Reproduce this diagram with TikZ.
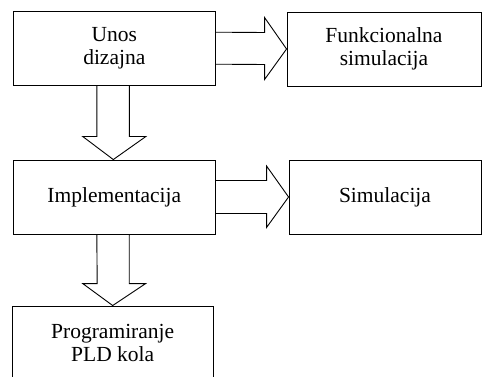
\documentclass[tikz,border=0pt]{standalone}
\usepackage{fontspec}
\setmainfont{Liberation Serif}
\usetikzlibrary{calc}
\begin{document}
\begin{tikzpicture}[x=1pt,y=-1pt,
  box/.style={draw,line width=0.9pt,inner sep=0pt,minimum height=74pt,
    align=center,font=\fontsize{21.5}{23.5}\selectfont},
  blockarrow/.style={draw,line width=0.9pt,line join=miter}]
\clip (0,0) rectangle (482,377);
% process boxes
\node[box,minimum width=201.5pt] (unos) at (114.3,48.2) {Unos\\dizajna};
\node[box,minimum width=194pt] (funk) at (384,49) {Funkcionalna\\simulacija};
\node[box,minimum width=201.5pt] (impl) at (114.3,197) {Implementacija};
\node[box,minimum width=192pt] (sim) at (385,197) {Simulacija};
\node[box,minimum width=201pt] (prog) at (112.7,343) {Programiranje\\PLD kola};
% wide arrows between the boxes
\draw[blockarrow] ($(unos.east)+(0,-16)$) -- ($(funk.west)+(-22,-16.5)$)
  -- ($(funk.west)+(-22,-31.5)$) -- (funk.west) -- ($(funk.west)+(-22,30.5)$)
  -- ($(funk.west)+(-22,15.5)$) -- ($(unos.east)+(0,16)$);
\draw[blockarrow] ($(impl.east)+(0,-16.5)$) -- ($(sim.west)+(-22,-16.5)$)
  -- ($(sim.west)+(-22,-31)$) -- (sim.west) -- ($(sim.west)+(-22,30.5)$)
  -- ($(sim.west)+(-22,16.5)$) -- ($(impl.east)+(0,16.5)$);
\draw[blockarrow] ($(unos.south)+(-17.5,0)$) -- ($(impl.north)+(-17.5,-23)$)
  -- ($(impl.north)+(-31.5,-23)$) -- ($(impl.north)+(-1,0)$) -- ($(impl.north)+(31.5,-23)$)
  -- ($(impl.north)+(15,-23)$) -- ($(unos.south)+(15,0)$);
\draw[blockarrow] ($(impl.south)+(-17.5,0)$) -- ($(prog.north)+(-15.5,-22)$)
  -- ($(prog.north)+(-30,-22)$) -- (prog.north) -- ($(prog.north)+(33,-22)$)
  -- ($(prog.north)+(16.5,-22)$) -- ($(impl.south)+(15,0)$);
\end{tikzpicture}
\end{document}
